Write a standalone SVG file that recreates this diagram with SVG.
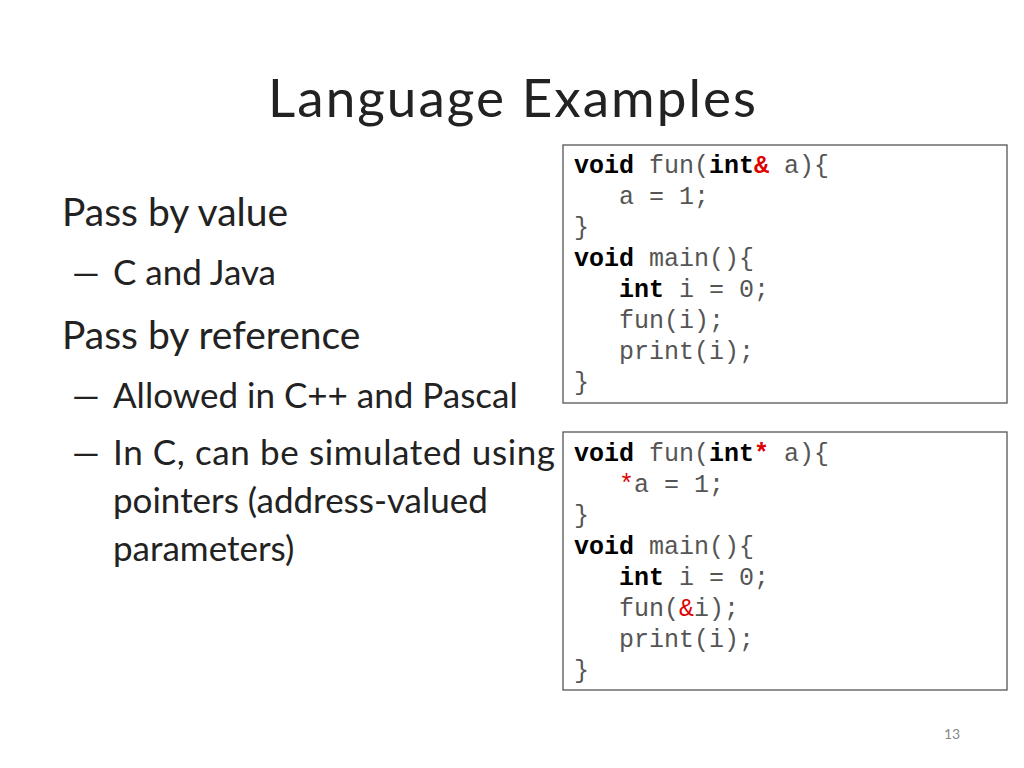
<svg xmlns="http://www.w3.org/2000/svg" width="1024" height="768" viewBox="0 0 1024 768">
<style>
.t{font-family:Lato,"Open Sans",sans-serif;fill:#222}
.c{font-family:"Liberation Mono",monospace;font-size:25px;fill:#555;white-space:pre}
.k{font-weight:bold;fill:#000}
.r{fill:#e00000}
.box{fill:#fff;stroke:#555;stroke-width:1.3}
</style>
<rect width="1024" height="768" fill="#fff"/>
<text class="t" x="268" y="117" font-size="53" textLength="488">Language Examples</text>
<g class="t">
<text x="62" y="226" font-size="39">Pass by value</text>
<text x="72" y="285" font-size="35">—</text><text x="113" y="285" font-size="35">C and Java</text>
<text x="62" y="349" font-size="39">Pass by reference</text>
<text x="72" y="408" font-size="35">—</text><text x="113" y="408" font-size="35">Allowed in C++ and Pascal</text>
<text x="72" y="465" font-size="35">—</text><text x="113" y="465" font-size="35" textLength="442">In C, can be simulated using</text>
<text x="113" y="513" font-size="35">pointers (address-valued</text>
<text x="113" y="561" font-size="35">parameters)</text>
</g>
<g id="code1">
<rect class="box" x="563" y="145" width="444" height="258"/>
<text class="c" x="574" y="173"><tspan class="k">void</tspan> fun(<tspan class="k">int</tspan><tspan class="k r">&amp;</tspan> a){</text>
<text class="c" x="574" y="204">   a = 1;</text>
<text class="c" x="574" y="235">}</text>
<text class="c" x="574" y="266"><tspan class="k">void</tspan> main(){</text>
<text class="c" x="574" y="297">   <tspan class="k">int</tspan> i = 0;</text>
<text class="c" x="574" y="328">   fun(i);</text>
<text class="c" x="574" y="359">   print(i);</text>
<text class="c" x="574" y="390">}</text>
</g>
<g id="code2">
<rect class="box" x="563" y="432" width="444" height="258"/>
<text class="c" x="574" y="461"><tspan class="k">void</tspan> fun(<tspan class="k">int</tspan><tspan class="k r">*</tspan> a){</text>
<text class="c" x="574" y="492">   <tspan class="r">*</tspan>a = 1;</text>
<text class="c" x="574" y="523">}</text>
<text class="c" x="574" y="554"><tspan class="k">void</tspan> main(){</text>
<text class="c" x="574" y="585">   <tspan class="k">int</tspan> i = 0;</text>
<text class="c" x="574" y="616">   fun(<tspan class="r">&amp;</tspan>i);</text>
<text class="c" x="574" y="647">   print(i);</text>
<text class="c" x="574" y="678">}</text>
</g>
<text x="944" y="739" font-family="Lato,sans-serif" font-size="14" fill="#888">13</text>
</svg>
